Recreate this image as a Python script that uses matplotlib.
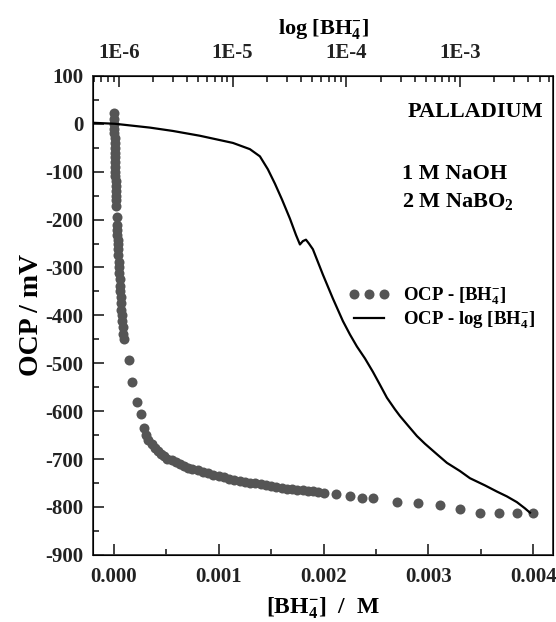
import numpy as np
import matplotlib
matplotlib.use("Agg")
import matplotlib.pyplot as plt
from matplotlib.ticker import MultipleLocator, FixedLocator, FuncFormatter, LogLocator, NullFormatter

plt.rcParams['font.family'] = ['Liberation Serif', 'DejaVu Serif']
plt.rcParams['font.weight'] = 'bold'
plt.rcParams['axes.unicode_minus'] = False
plt.rcParams['mathtext.fontset'] = 'custom'
plt.rcParams['mathtext.rm'] = 'Liberation Serif:bold'
plt.rcParams['mathtext.it'] = 'Liberation Serif:bold'
plt.rcParams['mathtext.bf'] = 'Liberation Serif:bold'
plt.rcParams['mathtext.default'] = 'rm'

# OCP vs [BH4-] (linear concentration, M)
conc = [0.0, 0.000002, 0.000004, 0.000005, 0.000006, 0.000007, 0.000008, 0.000009,
        0.000010, 0.000011, 0.000012, 0.000013, 0.000014, 0.000015, 0.000016,
        0.000017, 0.000018, 0.000019, 0.000020, 0.000021, 0.000026, 0.000030,
        0.000032, 0.000034, 0.000036, 0.000038, 0.000040, 0.000043, 0.000046,
        0.000049, 0.000052, 0.000055, 0.000058, 0.000061, 0.000064, 0.000068,
        0.000072, 0.000076, 0.000080, 0.000085, 0.000090, 0.000095,
        0.000140, 0.000175, 0.000220, 0.000255, 0.000285, 0.000310, 0.000330,
        0.000360, 0.000390, 0.000420, 0.000450, 0.000480, 0.000510, 0.000550,
        0.000590, 0.000630, 0.000670, 0.000710, 0.000750, 0.000800, 0.000850,
        0.000900, 0.000950, 0.001000, 0.001050, 0.001100, 0.001150, 0.001200,
        0.001250, 0.001300, 0.001350, 0.001400, 0.001450, 0.001500, 0.001550,
        0.001600, 0.001650, 0.001700, 0.001750, 0.001800, 0.001850, 0.001900,
        0.001950, 0.00200, 0.00212, 0.00225, 0.00237, 0.00247, 0.00270, 0.00290,
        0.00311, 0.00330, 0.00349, 0.00367, 0.00384, 0.00400]
ocp_lin = [23, 10, 0, -10, -20, -30, -40, -50,
           -60, -70, -80, -90, -100, -110, -120,
           -130, -140, -150, -160, -172, -194, -212,
           -222, -232, -242, -252, -262, -275, -288,
           -300, -312, -325, -338, -350, -362, -375,
           -388, -400, -412, -425, -438, -450,
           -493, -539, -580, -607, -635, -650, -660,
           -668, -676, -683, -689, -694, -699, -703,
           -707, -711, -715, -718, -720, -723, -727,
           -730, -733, -736, -738, -741, -743, -745,
           -747, -749, -751, -753, -755, -757, -759,
           -760, -762, -763, -764, -765, -766, -767,
           -768, -771, -774, -778, -781, -782, -789, -791,
           -797, -804, -812, -812, -812, -812]

# OCP vs log[BH4-]
log_conc = [-6.22, -6.035, -5.727, -5.525, -5.288, -4.997, -4.848, -4.760, -4.690,
            -4.628, -4.566, -4.496, -4.443, -4.408, -4.382, -4.355, -4.329, -4.294,
            -4.206, -4.118, -4.030, -3.968, -3.907, -3.836, -3.766, -3.704, -3.643,
            -3.573, -3.529, -3.458, -3.379, -3.309, -3.203, -3.115, -3.001, -2.913,
            -2.781, -2.675, -2.588, -2.500, -2.429, -2.385]
ocp_log = [2, 0, -8, -15, -25, -40, -53, -68, -95,
           -125, -158, -198, -232, -252, -245, -242, -250, -262,
           -315, -365, -412, -440, -465, -490, -518, -545, -572,
           -596, -610, -630, -652, -668, -690, -708, -725, -740,
           -755, -768, -778, -790, -803, -812]

fig = plt.figure(figsize=(5.56, 6.22), dpi=100)
ax = fig.add_axes([0.167, 0.108, 0.828, 0.770])

dots, = ax.plot(conc, ocp_lin, 'o', color='#555555', markersize=7.2,
                markeredgewidth=0, label='OCP - [BH$_4^{-}$]')
ax.set_xlim(-0.0002, 0.00419)
ax.set_ylim(-900, 100)
ax.xaxis.set_major_locator(MultipleLocator(0.001))
ax.xaxis.set_minor_locator(MultipleLocator(0.0005))
ax.xaxis.set_major_formatter(FuncFormatter(lambda v, p: f"{v:.3f}"))
ax.yaxis.set_major_locator(MultipleLocator(100))
ax.yaxis.set_minor_locator(MultipleLocator(50))
ax.tick_params(which='both', direction='in', labelsize=15, width=1.2,
               top=False, right=False, colors='#222222')
ax.tick_params(which='major', length=8)
ax.tick_params(which='minor', length=4)
ax.tick_params(axis='x', which='major', pad=9)
ax.tick_params(axis='y', which='major', pad=7)
for s in ax.spines.values():
    s.set_linewidth(1.3)
    s.set_color('#333333')
ax.set_xlabel('[BH$_4^{-}$]  /  M', fontsize=17, fontweight='bold', labelpad=6)
ax.set_ylabel('OCP / mV', fontsize=20, fontweight='bold', labelpad=1)

ax2 = ax.twiny()
line, = ax2.plot(10 ** np.array(log_conc), ocp_log, '-', color='black', lw=1.6,
                 label='OCP - log [BH$_4^{-}$]')
ax2.set_xscale('log')
ax2.set_xlim(5.9e-7, 6.6e-3)
ax2.xaxis.set_major_locator(FixedLocator([1e-6, 1e-5, 1e-4, 1e-3]))
ax2.xaxis.set_minor_locator(LogLocator(base=10, subs=np.arange(2, 10), numticks=20))
ax2.xaxis.set_minor_formatter(NullFormatter())
ax2.xaxis.set_major_formatter(FuncFormatter(lambda v, p: f"1E{int(round(np.log10(v)))}"))
ax2.tick_params(which='both', direction='in', labelsize=15, width=1.2, colors='#222222')
ax2.tick_params(which='major', length=8, pad=9)
ax2.tick_params(which='minor', length=4)
ax2.set_xlabel('log [BH$_4^{-}$]', fontsize=16, fontweight='bold', labelpad=7)
ax2.set_ylim(-900, 100)

ax.text(0.978, 0.925, 'PALLADIUM', transform=ax.transAxes, ha='right', va='center',
        fontsize=16, fontweight='bold')
ax.text(0.672, 0.795, '1 M NaOH', transform=ax.transAxes, ha='left', va='center',
        fontsize=16, fontweight='bold')
ax.text(0.672, 0.737, '2 M NaBO$_2$', transform=ax.transAxes, ha='left', va='center',
        fontsize=16, fontweight='bold')

ax.legend(handles=[dots, line], loc='center left', bbox_to_anchor=(0.556, 0.515),
          frameon=False, numpoints=3, fontsize=13.5, handlelength=2.2,
          handletextpad=0.7, labelspacing=0.1, borderaxespad=0, borderpad=0)

fig.savefig('out.png', dpi=100)
